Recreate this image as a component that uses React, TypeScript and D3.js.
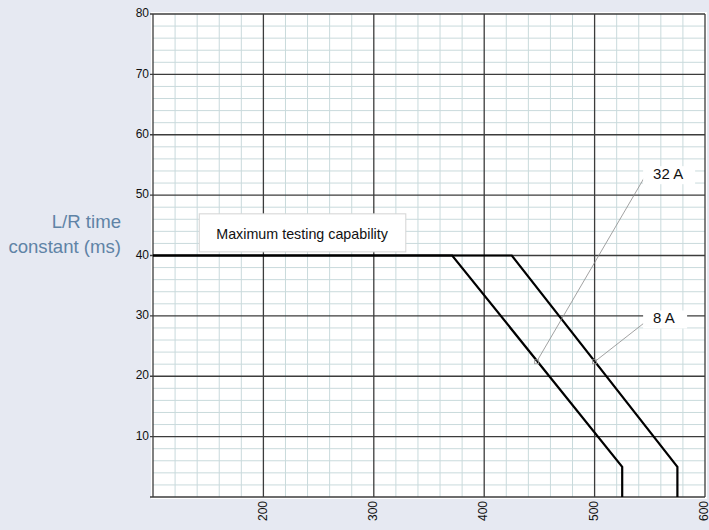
import * as React from "react";
import * as d3 from "d3";

// L/R time constant capability curves
const xMajorTicks = [200, 300, 400, 500, 600];
const yMajorTicks = [10, 20, 30, 40, 50, 60, 70, 80];

const curve32A: [number, number][] = [
  [100, 40],
  [371, 40],
  [525, 5],
  [525, 0],
];
const curve8A: [number, number][] = [
  [100, 40],
  [425, 40],
  [575, 5],
  [575, 0],
];

const callouts = [
  { label: "32 A", target: [447.5, 22.4], from: [544.7, 52.8], at: [553, 53.3] },
  { label: "8 A", target: [500, 22.4], from: [544.7, 28.8], at: [553, 29.4] },
];

const boxLabel = "Maximum testing capability";
const yTitle = ["L/R time", "constant (ms)"];

const W = 709;
const H = 530;
const FONT = "'Liberation Sans', Arial, sans-serif";

export default function App() {
  const x = d3.scaleLinear().domain([100, 600]).range([153, 705]);
  const y = d3.scaleLinear().domain([0, 80]).range([497, 14]);

  const minorX = d3.range(120, 600, 20).filter((v) => v % 100 !== 0);
  const minorY = d3.range(2, 80, 2).filter((v) => v % 10 !== 0);
  const majorX = d3.range(100, 601, 100);
  const majorY = d3.range(0, 81, 10);

  const line = d3
    .line<[number, number]>()
    .x((d) => x(d[0]))
    .y((d) => y(d[1]));

  const minorColor = "#c9dadc";
  const majorColor = "#3c3c3c";

  return (
    <svg
      width={W}
      height={H}
      style={{ position: "absolute", left: 0, top: 0, fontFamily: FONT }}
    >
      <rect x={0} y={0} width={W} height={H} fill="#e6e9f2" />
      <rect
        x={x(100) - 2}
        y={y(80) - 2}
        width={x(600) - x(100) + 4}
        height={y(0) - y(80) + 4}
        fill="#ffffff"
      />

      {minorX.map((v) => (
        <line key={`mx${v}`} x1={x(v)} x2={x(v)} y1={y(0)} y2={y(80)} stroke={minorColor} />
      ))}
      {minorY.map((v) => (
        <line key={`my${v}`} x1={x(100)} x2={x(600)} y1={y(v)} y2={y(v)} stroke={minorColor} />
      ))}
      {majorX.map((v) => (
        <line key={`Mx${v}`} x1={x(v)} x2={x(v)} y1={y(0)} y2={y(80)} stroke={majorColor} strokeWidth={1.3} />
      ))}
      {majorY.map((v) => (
        <line key={`My${v}`} x1={x(100) - 3} x2={x(600)} y1={y(v)} y2={y(v)} stroke={majorColor} strokeWidth={1.3} />
      ))}

      {yMajorTicks.map((v) => (
        <text
          key={`yt${v}`}
          x={x(100) - 4}
          y={y(v)}
          textAnchor="end"
          dominantBaseline="middle"
          fontSize={12}
          fill="#111"
        >
          {v}
        </text>
      ))}
      {xMajorTicks.map((v) => (
        <text
          key={`xt${v}`}
          transform={`translate(${x(v)},${y(0) + 4}) rotate(-90)`}
          textAnchor="end"
          dominantBaseline="middle"
          fontSize={12}
          fill="#111"
        >
          {v}
        </text>
      ))}

      {yTitle.map((t, i) => (
        <text key={t} x={121} y={228 + i * 25} textAnchor="end" fontSize={18.6} fill="#5f83a6">
          {t}
        </text>
      ))}

      <path d={line(curve32A) ?? undefined} fill="none" stroke="#000" strokeWidth={2.2} />
      <path d={line(curve8A) ?? undefined} fill="none" stroke="#000" strokeWidth={2.2} />

      <rect
        x={x(141.9)}
        y={y(46.9)}
        width={x(329) - x(141.9)}
        height={y(40.6) - y(46.9)}
        fill="#ffffff"
        stroke="#d4d4d4"
      />
      <text x={x(141.9) + 17} y={y(46.9) + 25} fontSize={14.3} fill="#111">
        {boxLabel}
      </text>

      {callouts.map((c) => {
        const tx = x(c.at[0]);
        const ty = y(c.at[1]);
        const tw = c.label.length * 8 + 10;
        return (
          <g key={c.label}>
            <line
              x1={x(c.from[0])}
              y1={y(c.from[1])}
              x2={x(c.target[0])}
              y2={y(c.target[1])}
              stroke="#8a8a8a"
              strokeWidth={0.8}
            />
            <rect
              x={x(c.target[0]) - 2}
              y={y(c.target[1]) - 2}
              width={4}
              height={4}
              fill="none"
              stroke="#9a9a9a"
              strokeWidth={0.8}
            />
            <rect x={tx - 10} y={ty - 9} width={tw + 10} height={18} fill="#ffffff" />
            <text x={tx} y={ty} dominantBaseline="middle" fontSize={15} fill="#111">
              {c.label}
            </text>
          </g>
        );
      })}
    </svg>
  );
}
